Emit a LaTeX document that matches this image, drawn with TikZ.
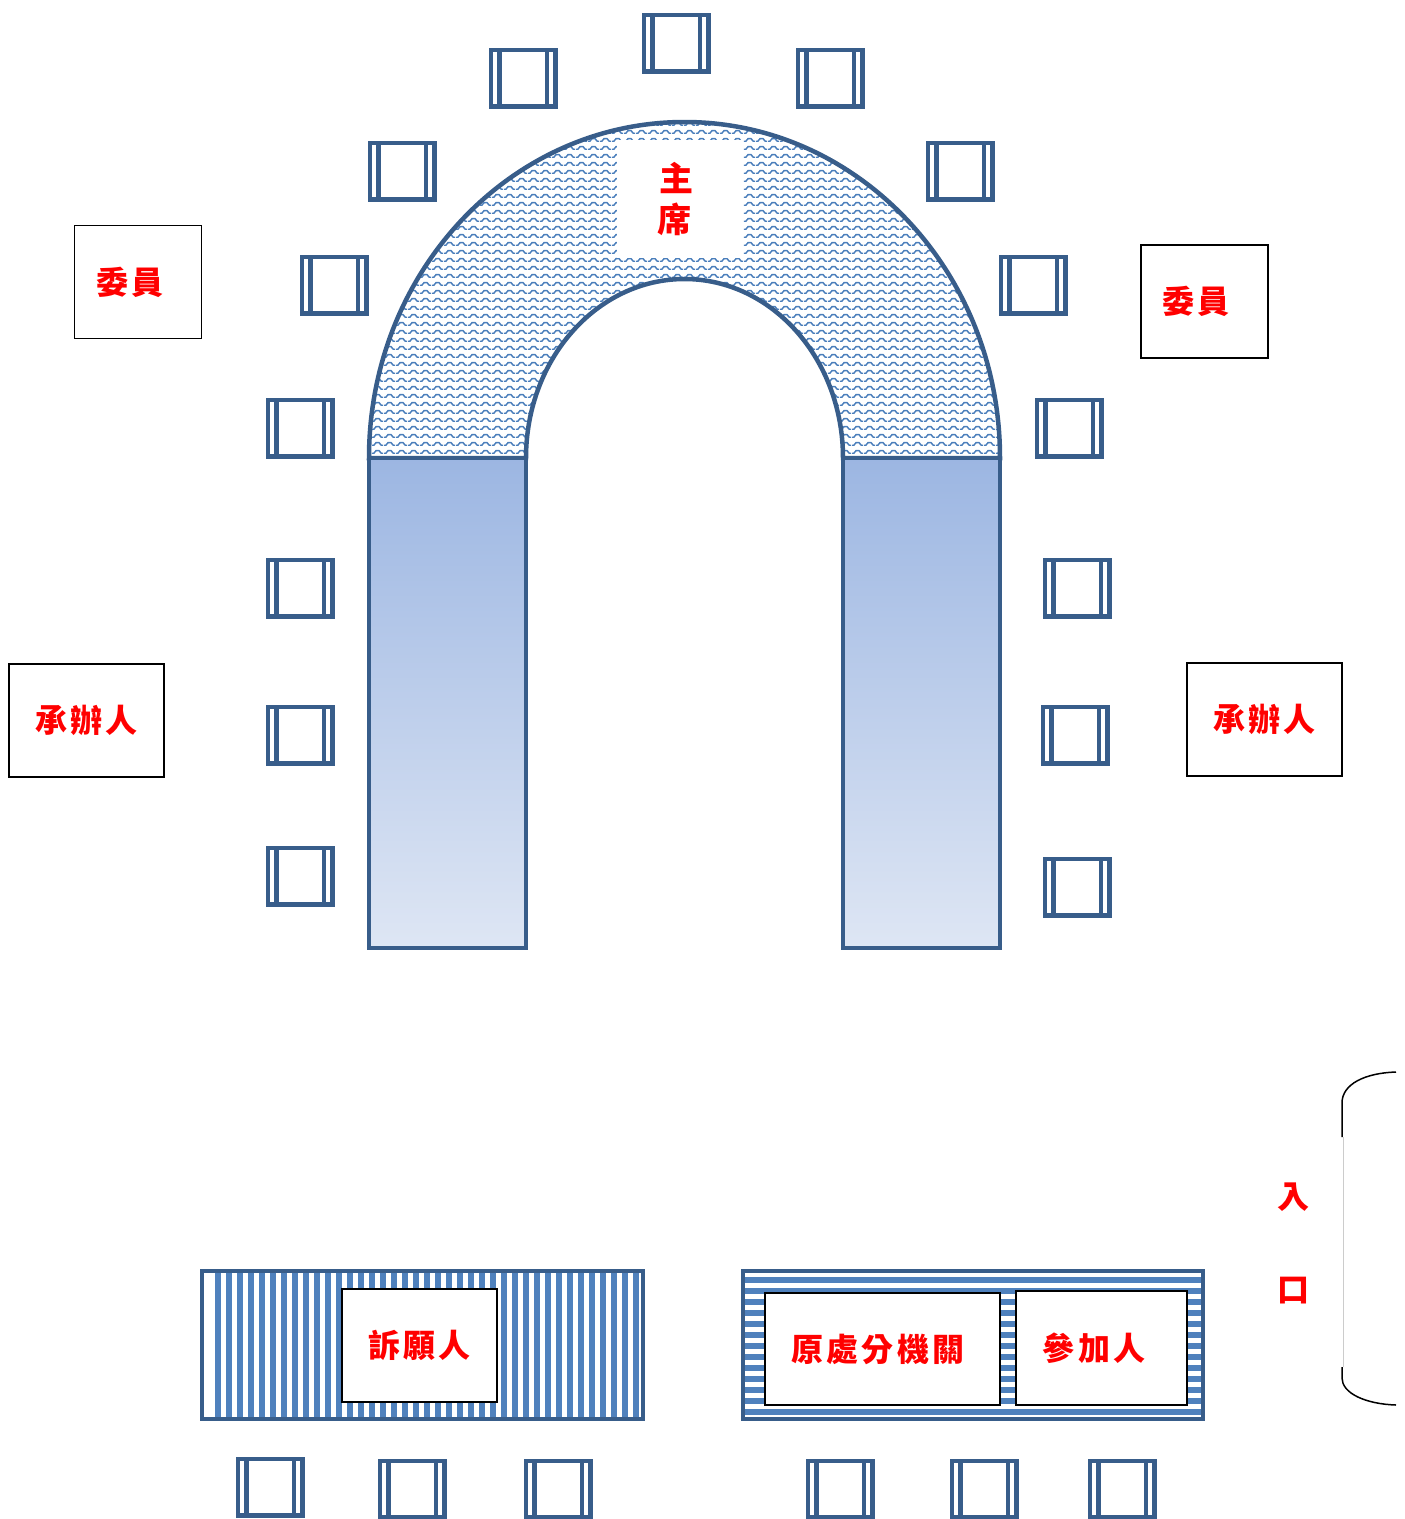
\documentclass[tikz,border=0pt]{standalone}
\usepackage{fontspec}
\usepackage{xcolor}
\usepackage{tikz}
\usetikzlibrary{patterns}
\newfontfamily\kai[LetterSpace=10]{Noto Sans CJK TC}
\definecolor{borde}{HTML}{385D8A}
\definecolor{raya}{HTML}{4F81BD}
\definecolor{onda}{HTML}{4A7EBB}
\definecolor{arriba}{HTML}{9CB6E2}
\definecolor{abajo}{HTML}{DEE6F4}
\pgfdeclarepatternformonly{ondas}{\pgfqpoint{0pt}{0pt}}{\pgfqpoint{12pt}{8pt}}{\pgfqpoint{12pt}{8pt}}{
  \pgfsetlinewidth{1.6pt}
  \pgfpathmoveto{\pgfqpoint{0pt}{2pt}}
  \pgfpathlineto{\pgfqpoint{2pt}{2pt}}
  \pgfpathlineto{\pgfqpoint{4.5pt}{5pt}}
  \pgfpathlineto{\pgfqpoint{7.5pt}{5pt}}
  \pgfpathlineto{\pgfqpoint{10pt}{2pt}}
  \pgfpathlineto{\pgfqpoint{12pt}{2pt}}
  \pgfusepath{stroke}
}

\begin{document}
\begin{tikzpicture}[
  x=1pt, y=-1pt,
  silla/.style={draw=borde, line width=4.5pt, fill=white, rectangle, inner sep=0pt,
    minimum width=64.5pt, minimum height=56.5pt,
    path picture={
      \draw[borde, line width=4.5pt] ([xshift=8.5pt]path picture bounding box.south west) -- ([xshift=8.5pt]path picture bounding box.north west);
      \draw[borde, line width=4.5pt] ([xshift=-8.5pt]path picture bounding box.south east) -- ([xshift=-8.5pt]path picture bounding box.north east);
    }},
  rotulo/.style={draw=black, line width=1.5pt, fill=white, rectangle, inner sep=0pt, font=\kai\fontsize{32}{40}\selectfont\bfseries, text=red},
  mesa/.style={draw=borde, line width=4.5pt},
  rayado/.style={line width=6pt, raya},
  puerta/.style={draw=black, line width=1.5pt}
]
  \useasboundingbox (0,0) rectangle (1405,1519);

  % mesa en U
  \draw[mesa, pattern=ondas, pattern color=onda] (369,458)
    arc[start angle=180, end angle=360, x radius=315.5, y radius=336] -- (843,458)
    arc[start angle=0, end angle=-180, x radius=158.5, y radius=179] -- cycle;
  \draw[mesa, top color=arriba, bottom color=abajo] (369,458) rectangle (526,948);
  \draw[mesa, top color=arriba, bottom color=abajo] (843,458) rectangle (1000,948);
  \node[fill=white, inner sep=0pt, minimum width=126pt, minimum height=118pt,
    font=\kai\fontsize{34}{41}\selectfont\bfseries, text=red, align=center] (chair) at (680,199) {\hspace*{-8pt}主\\\hspace*{-12pt}席};

  % sillas
  \foreach \nombre/\px/\py in {a/676/43, b/523/78, c/830/78, d/402/171, e/960/171, f/334/285, g/1033/285,
    h/300/428, i/1069/428, j/300/588, k/1077/588, l/300/735, m/1075/735, n/300/876, o/1077/887,
    p/270/1487, q/412/1489, r/558/1489, s/840/1489, t/984/1489, u/1122/1489}
    \node[silla] (silla\nombre) at (\px,\py) {};

  % mesas de abajo
  \begin{scope}
    \clip (202,1271) rectangle (643,1419);
    \foreach \k in {0,...,38}
      \draw[rayado] (218+11*\k,1271) -- (218+11*\k,1419);
  \end{scope}
  \draw[mesa] (202,1271) rectangle (643,1419);
  \begin{scope}
    \clip (743,1271) rectangle (1203,1419);
    \foreach \k in {0,...,12}
      \draw[rayado] (743,1280+11*\k) -- (1203,1280+11*\k);
  \end{scope}
  \draw[mesa] (743,1271) rectangle (1203,1419);

  % rotulos
  \node[rotulo, minimum width=127pt, minimum height=113pt] (miembroizq) at (138,282) {\hspace*{-16pt}委員};
  \node[rotulo, minimum width=127pt, minimum height=113pt] (miembroder) at (1204.5,301.5) {\hspace*{-17pt}委員};
  \node[rotulo, minimum width=155pt, minimum height=113pt] (oficializq) at (86.5,720.5) {承辦人};
  \node[rotulo, minimum width=155pt, minimum height=113pt] (oficialder) at (1264.5,719.5) {承辦人};
  \node[rotulo, minimum width=155pt, minimum height=113pt] (peticion) at (419.5,1345.5) {訴願人};
  \node[rotulo, minimum width=235pt, minimum height=112pt] (organo) at (882.5,1349) {\hspace*{-9pt}原處分機關};
  \node[rotulo, minimum width=171pt, minimum height=114pt] (parte) at (1101.5,1348) {\hspace*{-15pt}參加人};

  % entrada
  \node[font=\kai\fontsize{32}{40}\selectfont\bfseries, text=red, inner sep=0pt] (ent) at (1293,1197) {入};
  \node[font=\kai\fontsize{32}{40}\selectfont\bfseries, text=red, inner sep=0pt] (sal) at (1293,1291) {口};
  \draw[puerta] (1396,1072) .. controls (1365,1073) and (1342,1084) .. (1342,1103) -- (1342,1137);
  \draw[black!20, line width=1pt] (1343,1137) -- (1343,1367);
  \draw[puerta] (1342,1367) -- (1342,1378) .. controls (1342,1393) and (1365,1404) .. (1396,1405);
\end{tikzpicture}
\end{document}
